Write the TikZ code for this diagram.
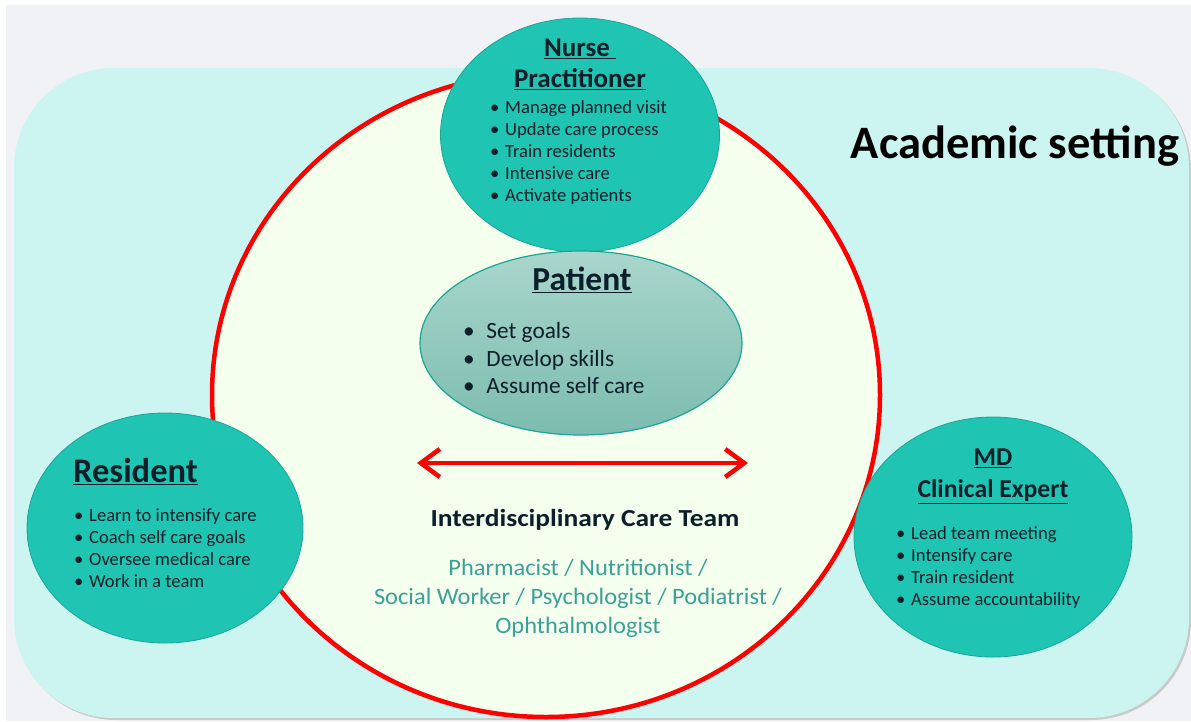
\documentclass[tikz,border=0pt]{standalone}
\usepackage{fontspec}
\setmainfont{Carlito}
\usetikzlibrary{arrows.meta,shapes.geometric,shadows}

\definecolor{paneGrey}{HTML}{F0F2F5}
\definecolor{settingCyan}{HTML}{CCF5F2}
\definecolor{teamGreen}{HTML}{F4FFEE}
\definecolor{roleTeal}{HTML}{20C4B2}
\definecolor{roleEdge}{HTML}{1AA595}
\definecolor{patientTop}{HTML}{A9D6CD}
\definecolor{patientBot}{HTML}{7CBCAE}
\definecolor{memberTeal}{HTML}{3CA096}
\definecolor{inkDark}{HTML}{0B1F2A}

% bullet with a fixed gap before the item text
\newcommand{\bul}[1][15pt]{\makebox[#1][l]{\textbullet}}

\begin{document}
\begin{tikzpicture}[x=1pt,y=-1pt,
        role/.style={ellipse,draw=roleEdge,line width=0.8pt,fill=roleTeal,inner sep=0pt},
        roletitle/.style={font=\fontsize{25.7}{32}\selectfont\bfseries,text=inkDark,align=center,inner sep=0pt},
        bigtitle/.style={font=\fontsize{34.5}{40}\selectfont\bfseries,text=inkDark,inner sep=0pt},
        roleitems/.style={font=\fontsize{18.6}{22}\selectfont,text=inkDark,align=left,anchor=west,inner sep=0pt},
        members/.style={font=\fontsize{23.5}{29}\selectfont,text=memberTeal,align=center,inner sep=0pt,xscale=1.04}]
    \useasboundingbox (0,0) rectangle (1191,721);

    % backdrop and the academic setting panel
    \fill[paneGrey] (6,5) rectangle (1191,721);
    \fill[settingCyan,rounded corners=100pt,
        drop shadow={shadow xshift=2pt,shadow yshift=-2pt,opacity=0.35}]
        (14,68) rectangle (1189,718);
    \node[font=\fontsize{46.5}{52}\selectfont\bfseries,inner sep=0pt] (setting) at (1015,146) {Academic setting};

    % interdisciplinary team circle
    \node[ellipse,draw=red,line width=4.5pt,fill=teamGreen,minimum width=668pt,minimum height=644pt,
        drop shadow={shadow xshift=0pt,shadow yshift=-3pt,opacity=0.2}] (team) at (546,395) {};

    % roles
    \node[role,minimum width=279pt,minimum height=234pt] (nurse) at (580,135) {};
    \node[roletitle,font=\fontsize{27}{31}\selectfont\bfseries] (nurseT) at (580,64)
        {\underline{Nurse\ }\\\underline{Practitioner}};
    \node[roleitems] (nurseL) at (490,153) {\bul Manage planned visit\\\bul Update care process\\
        \bul Train residents\\\bul Intensive care\\\bul Activate patients};

    \node[role,minimum width=276pt,minimum height=230pt] (resident) at (165,528) {};
    \node[bigtitle,anchor=west] (residentT) at (73,472) {\underline{Resident}};
    \node[roleitems] (residentL) at (74,548) {\bul Learn to intensify care\\\bul Coach self care goals\\
        \bul Oversee medical care\\\bul Work in a team};

    \node[role,minimum width=278pt,minimum height=240pt] (md) at (993,537) {};
    \node[roletitle] (mdT) at (993,476) {\underline{MD}\\\underline{Clinical Expert}};
    \node[roleitems] (mdL) at (896,568) {\bul Lead team meeting\\\bul Intensify care\\
        \bul Train resident\\\bul Assume accountability};

    % patient in the middle
    \node[ellipse,draw=roleEdge,line width=1.2pt,top color=patientTop,bottom color=patientBot,
        minimum width=322pt,minimum height=184pt] (patient) at (581,343) {};
    \node[bigtitle,font=\fontsize{33.5}{40}\selectfont\bfseries] (patientT) at (582,280) {\underline{Patient}};
    \node[roleitems,font=\fontsize{23.3}{27.5}\selectfont] (patientL) at (463,358) {\bul[18pt] Set goals\\
        \bul[18pt] Develop skills\\\bul[18pt] Assume self care};

    % team exchange arrow
    \coordinate (arrL) at (417,463);
    \coordinate (arrR) at (748,463);
    \draw[red,line width=4.5pt,{Straight Barb[length=19pt,width=28pt]}-{Straight Barb[length=19pt,width=28pt]}]
        (arrL) -- (arrR);

    \node[font=\fontsize{24.5}{28}\selectfont\bfseries,text=inkDark,inner sep=0pt,xscale=1.12] (teamT)
        at (585,520) {Interdisciplinary Care Team};
    \node[members] (teamL) at (578,598) {Pharmacist / Nutritionist /\\
        Social Worker / Psychologist / Podiatrist /\\Ophthalmologist};
\end{tikzpicture}
\end{document}
